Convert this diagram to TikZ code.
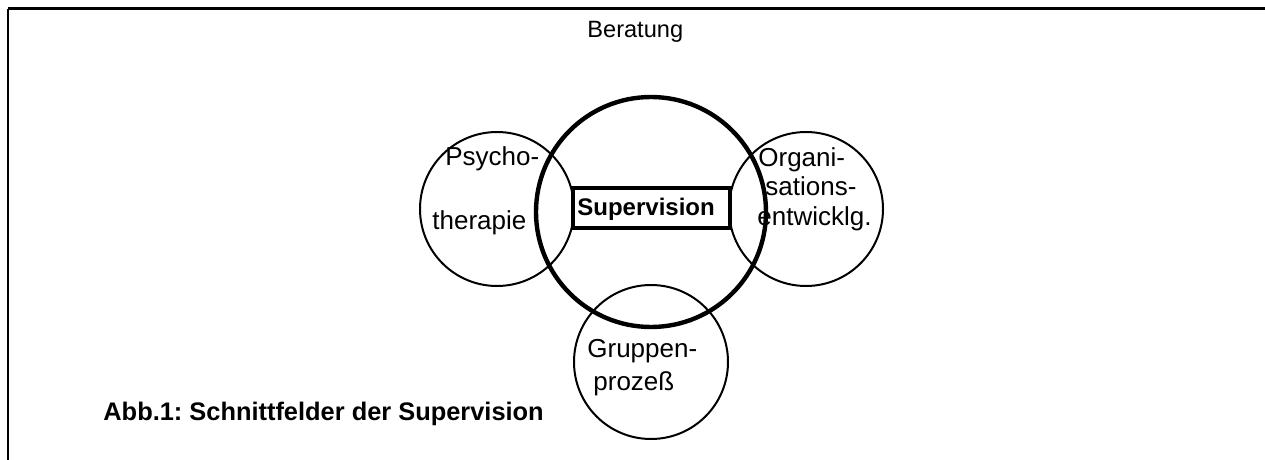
\documentclass[tikz,border=0pt]{standalone}
\usepackage{fontspec}
\setmainfont{Liberation Sans}
\usetikzlibrary{positioning}
\frenchspacing

\begin{document}
\begin{tikzpicture}[x=0.5pt,y=-0.5pt,
  field/.style={draw,circle,line width=1pt,minimum size=77pt,inner sep=0pt},
  core/.style={draw,circle,line width=2.2pt,minimum size=115pt,inner sep=0pt},
  supbox/.style={draw,line width=2pt,minimum width=78.5pt,minimum height=20pt,inner sep=0pt},
  lab/.style={anchor=base west,inner sep=0pt,font=\fontsize{13}{15}\selectfont}]
\useasboundingbox (0,0) rectangle (1265,460);
\draw[line width=1pt] (8,9)--(8,460);
\draw[line width=1.5pt] (8,9)--(1265,9);
% fields round the centre
\node[core] (sv) at (651,212) {};
\foreach \n/\x/\y in {psy/497/209,org/806/209,grp/651/362}{
  \node[field] (\n) at (\x,\y) {};
}
\node[supbox] (box) at (651.5,208) {};
\node[anchor=base west,inner sep=0pt,font=\fontsize{12}{14}\selectfont\bfseries] (svlab) at (577,215) {Supervision};
% labels
\node[lab,font=\fontsize{11.8}{14}\selectfont] (ber) at (587,38) {Beratung};
\node[lab] (psy1) at (445,166) {Psycho-};
\node[lab] (psy2) at (432,229) {therapie};
\node[lab] (org1) at (758,167) {Organi-};
\node[lab] (org2) at (765,196) {sations-};
\node[lab] (org3) at (757,226) {entwicklg.};
\node[lab] (grp1) at (587,357) {Gruppen-};
\node[lab] (grp2) at (593,390) {prozeß};
\node[anchor=base west,inner sep=0pt,font=\fontsize{12.7}{15}\selectfont\bfseries] (cap) at (103,420) {Abb.1: Schnittfelder der Supervision};
\end{tikzpicture}
\end{document}
